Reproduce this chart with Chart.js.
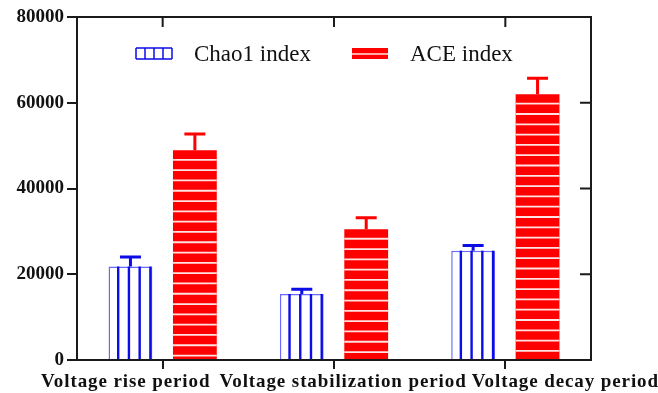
<!DOCTYPE html>
<html>
<head>
<meta charset="utf-8">
<script src="https://cdn.jsdelivr.net/npm/chart.js@4.4.1/dist/chart.umd.min.js"></script>
<style>
    html, body { margin: 0; padding: 0; background: #fff; }
</style>
</head>
<body>
<canvas id="grafico" width="658" height="393"></canvas>
<script>
const categories = ['Voltage rise period', 'Voltage stabilization period', 'Voltage decay period'];
const chao1 = [21800, 15400, 25500];
const chao1Err = [2200, 1100, 1200];
const ace = [48900, 30500, 62000];
const aceErr = [3800, 2700, 3700];
const yTicks = [0, 20000, 40000, 60000, 80000];

const serif = "'Liberation Serif', 'Times New Roman', serif";
const blueLine = '#6a6aff';
const blueDark = '#0c0ce6';
const red = '#ff0000';
const axisColor = '#1a1a1a';
// horizontal shift of each category label from its tick (labels are too wide to centre)
const labelShift = [-37, 9, 60];

// draws the hatching, error bars, frame, legend and category labels
const extras = {
    id: 'extras',
    afterDatasetsDraw(chart) {
        const ctx = chart.ctx;
        const yScale = chart.scales.y;
        chart.data.datasets.forEach((ds, i) => {
            const meta = chart.getDatasetMeta(i);
            meta.data.forEach((bar, j) => {
                const p = bar.getProps(['x', 'y', 'base', 'width'], true);
                const left = p.x - p.width / 2;
                const right = p.x + p.width / 2;
                ctx.save();
                if (ds.hatch === 'vertical') {
                    ctx.strokeStyle = blueDark;
                    ctx.lineWidth = 2.4;
                    for (let k = 0; k < 4; k++) {
                        const lx = left + p.width * (0.22 + k * 0.245);
                        ctx.beginPath();
                        ctx.moveTo(lx, p.y);
                        ctx.lineTo(lx, p.base);
                        ctx.stroke();
                    }
                } else {
                    ctx.strokeStyle = '#ffe2e2';
                    ctx.lineWidth = 1.8;
                    for (let sy = p.y + 9.5; sy < p.base - 2; sy += 10.3) {
                        ctx.beginPath();
                        ctx.moveTo(left, sy);
                        ctx.lineTo(right, sy);
                        ctx.stroke();
                    }
                }
                // error bar (upper half only)
                const top = yScale.getPixelForValue(ds.data[j] + ds.errors[j]);
                ctx.strokeStyle = ds.errColor;
                ctx.lineWidth = 3;
                ctx.beginPath();
                ctx.moveTo(p.x, p.y);
                ctx.lineTo(p.x, top);
                ctx.moveTo(p.x - 10.5, top);
                ctx.lineTo(p.x + 10.5, top);
                ctx.stroke();
                ctx.restore();
            });
        });
    },
    afterDraw(chart) {
        const ctx = chart.ctx;
        const a = chart.chartArea;
        const xs = chart.scales.x;
        const ys = chart.scales.y;
        ctx.save();
        ctx.strokeStyle = axisColor;
        ctx.lineWidth = 2;
        ctx.beginPath();
        ctx.moveTo(a.left - 1, a.top);
        ctx.lineTo(a.right, a.top);
        ctx.lineTo(a.right, a.bottom);
        categories.forEach((c, i) => {
            const px = xs.getPixelForTick(i);
            ctx.moveTo(px, a.top);
            ctx.lineTo(px, a.top + 10);
        });
        yTicks.slice(1, -1).forEach(v => {
            const py = ys.getPixelForValue(v);
            ctx.moveTo(a.right, py);
            ctx.lineTo(a.right - 11, py);
        });
        ctx.stroke();

        // category labels
        ctx.fillStyle = '#111';
        ctx.font = 'bold 19px ' + serif;
        ctx.letterSpacing = '0.9px';
        ctx.textAlign = 'center';
        ctx.textBaseline = 'alphabetic';
        categories.forEach((c, i) => {
            ctx.fillText(c, xs.getPixelForTick(i) + labelShift[i], 387);
        });
        ctx.letterSpacing = '0px';

        // legend
        const items = [
            { ds: chart.data.datasets[0], x: 136, tx: 194 },
            { ds: chart.data.datasets[1], x: 352, tx: 410 }
        ];
        const ly = 48, lh = 11, lw = 36;
        items.forEach(it => {
            if (it.ds.hatch === 'vertical') {
                ctx.fillStyle = '#fff';
                ctx.fillRect(it.x, ly, lw, lh);
                ctx.strokeStyle = blueDark;
                ctx.lineWidth = 1.5;
                ctx.beginPath();
                for (let k = 0; k <= 4; k++) {
                    ctx.moveTo(it.x + k * lw / 4, ly);
                    ctx.lineTo(it.x + k * lw / 4, ly + lh);
                }
                ctx.moveTo(it.x, ly);
                ctx.lineTo(it.x + lw, ly);
                ctx.moveTo(it.x, ly + lh);
                ctx.lineTo(it.x + lw, ly + lh);
                ctx.stroke();
            } else {
                ctx.fillStyle = red;
                ctx.fillRect(it.x, ly, lw, lh);
                ctx.strokeStyle = '#ffe2e2';
                ctx.lineWidth = 1.5;
                ctx.beginPath();
                ctx.moveTo(it.x, ly + lh / 2 + 0.5);
                ctx.lineTo(it.x + lw, ly + lh / 2 + 0.5);
                ctx.stroke();
            }
            ctx.fillStyle = '#111';
            ctx.font = '23px ' + serif;
            ctx.textAlign = 'left';
            ctx.fillText(it.ds.label, it.tx, 61);
        });
        ctx.restore();
    }
};

const ctx = document.getElementById('grafico').getContext('2d');
const grafico = new Chart(ctx, {
    type: 'bar',
    data: {
        labels: categories,
        datasets: [{
            label: 'Chao1 index',
            data: chao1,
            errors: chao1Err,
            hatch: 'vertical',
            errColor: blueDark,
            backgroundColor: '#ffffff',
            borderColor: blueLine,
            borderWidth: 1.5,
            categoryPercentage: 0.752,
            barPercentage: 0.68
        },
        {
            label: 'ACE index',
            data: ace,
            errors: aceErr,
            hatch: 'horizontal',
            errColor: red,
            backgroundColor: red,
            borderWidth: 0,
            categoryPercentage: 0.752,
            barPercentage: 0.68
        }]
    },
    plugins: [extras],
    options: {
        responsive: false,
        animation: false,
        layout: {
            padding: { top: 17, right: 67, left: 0, bottom: 0 }
        },
        plugins: {
            legend: { display: false },
            tooltip: { enabled: false }
        },
        scales: {
            x: {
                z: 1,
                grid: {
                    offset: false,
                    drawOnChartArea: false,
                    tickLength: 9,
                    color: axisColor,
                    lineWidth: 2
                },
                border: { color: axisColor, width: 2 },
                ticks: { display: false },
                afterFit(s) { s.height = 33; }
            },
            y: {
                z: 1,
                min: 0,
                max: 80000,
                afterBuildTicks(s) { s.ticks = yTicks.map(v => ({ value: v })); },
                ticks: {
                    font: { family: serif, size: 19, weight: 'bold' },
                    color: '#111',
                    padding: 3,
                    callback: v => String(v)
                },
                grid: {
                    drawOnChartArea: false,
                    tickLength: 10,
                    color: axisColor,
                    lineWidth: 2
                },
                border: { color: axisColor, width: 2 },
                afterFit(s) { s.width = 77; }
            }
        }
    }
});
</script>
</body>
</html>
